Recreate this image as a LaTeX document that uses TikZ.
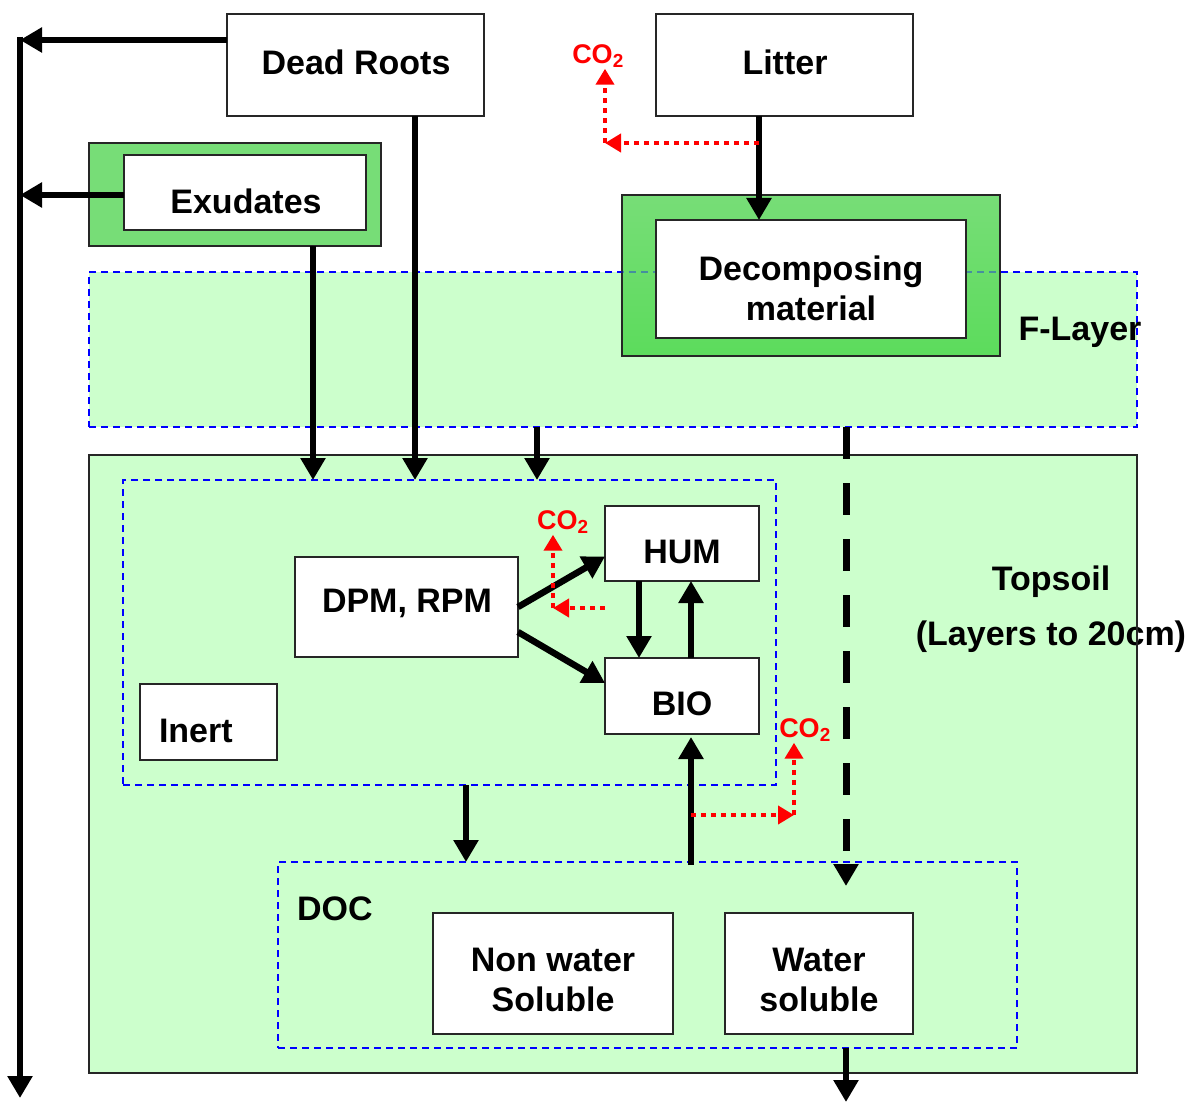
\documentclass[tikz,border=0pt]{standalone}
\usepackage{fontspec}
\setmainfont{Liberation Sans}
\usetikzlibrary{arrows.meta}
\definecolor{soil}{HTML}{CCFFCC}
\definecolor{frameA}{HTML}{77DD77}
\definecolor{frameB}{HTML}{5CDC5C}
\definecolor{bluedash}{HTML}{0000FF}
\definecolor{co2red}{HTML}{FF0000}
\begin{document}
\begin{tikzpicture}[x=1pt,y=-1pt,
  every node/.style={inner sep=0pt, outer sep=0pt},
  box/.style={draw=black!85, line width=1.5pt, fill=white, rectangle},
  greenframe/.style={draw=black!85, line width=1.5pt, fill=frameA, rectangle},
  region/.style={draw=bluedash, line width=1.4pt, dash pattern=on 7pt off 5pt, rectangle},
  txt/.style={font=\fontsize{34}{40}\selectfont\bfseries, align=center, text=black},
  co2/.style={font=\fontsize{27}{30}\selectfont\bfseries, text=co2red, inner sep=1pt},
  arr/.style={line width=6.5pt, draw=black, -{Triangle[length=22pt,width=24pt]}},
  redarr/.style={line width=4.5pt, draw=co2red, dash pattern=on 5pt off 5pt, -{Triangle[length=16pt,width=18pt]}}
]
\useasboundingbox (0,0) rectangle (1192,1102);

% layers
\node[region, fill=soil, minimum width=1048pt, minimum height=155pt] (flayer) at (613,349.5) {};
\node[rectangle, fill=soil, minimum width=1048pt, minimum height=618pt] (topsoil) at (613,764) {};
\node[region, minimum width=653pt, minimum height=305pt] (inner) at (449.5,632.5) {};
\node[region, minimum width=739pt, minimum height=186pt] (doc) at (647.5,955) {};

% top boxes
\node[box, minimum width=257pt, minimum height=102pt] (dead) at (355.5,65) {};
\node[box, minimum width=257pt, minimum height=102pt] (litter) at (784.5,65) {};
\node[greenframe, minimum width=292pt, minimum height=103pt] (exout) at (235,194.5) {};
\node[box, minimum width=242pt, minimum height=75pt] (exud) at (245,192.5) {};
\node[draw=black!85, line width=1.5pt, top color=frameA, bottom color=frameB, rectangle,
      minimum width=378pt, minimum height=161pt] (decout) at (811,275.5) {};
\draw[bluedash, line width=1.4pt, dash pattern=on 7pt off 5pt, opacity=0.35]
  (flayer.north west) -- (flayer.north east);
\node[box, minimum width=310pt, minimum height=118pt] (decomp) at (811,279) {};

% inner boxes
\node[box, minimum width=223pt, minimum height=100pt] (dpm) at (406.5,607) {};
\node[box, minimum width=154pt, minimum height=75pt] (hum) at (682,543.5) {};
\node[box, minimum width=154pt, minimum height=76pt] (bio) at (682,696) {};
\node[box, minimum width=137pt, minimum height=76pt] (inert) at (208.5,722) {};
\node[box, minimum width=240pt, minimum height=121pt] (nws) at (553,973.5) {};
\node[box, minimum width=188pt, minimum height=121pt] (ws) at (819,973.5) {};

% texts
\node[txt] (tdead) at (356,62) {Dead Roots};
\node[txt] (tlitter) at (785,62) {Litter};
\node[txt] (texud) at (246,201) {Exudates};
\node[txt] (tdecomp) at (811,288) {Decomposing\\material};
\node[txt] (tflayer) at (1080,332) {F-Layer};
\node[txt] (tdpm) at (407,603) {DPM, RPM};
\node[txt] (thum) at (682,552) {HUM};
\node[txt] (tbio) at (682,704) {BIO};
\node[txt, anchor=west] (tinert) at (159,731) {Inert};
\node[txt, anchor=west] (tdoc) at (297,909) {DOC};
\node[txt] (tnws) at (553,980) {Non water\\Soluble};
\node[txt] (tws) at (819,980) {Water\\soluble};
\node[txt] (ttop) at (1051,582) {Topsoil};
\node[txt] (tlay) at (1051,637) {(Layers to 20cm)};

% topsoil border over text
\draw[black!85, line width=2pt] (topsoil.north west) rectangle (topsoil.south east);

% CO2 labels
\node[co2] (co2a) at (598,56) {CO\textsubscript{2}};
\node[co2] (co2b) at (563,522) {CO\textsubscript{2}};
\node[co2] (co2c) at (805,730) {CO\textsubscript{2}};

% coordinates
\coordinate (lt) at (20,40);
\coordinate (le) at (20,195);
\coordinate (lb) at (20,1098);
\coordinate (x313) at (313,0);
\coordinate (x415) at (415,0);
\coordinate (x466) at (466,0);
\coordinate (x537) at (537,0);
\coordinate (x639) at (639,0);
\coordinate (x691) at (691,0);
\coordinate (x759) at (759,0);
\coordinate (x846) at (846,0);
\coordinate (dtip) at (846,886);
\coordinate (wbot) at (846,1102);
\coordinate (c1) at (605,143);
\coordinate (c2) at (553,608);
\coordinate (c3) at (794,815);

% left outflow
\draw[line width=6.5pt, -{Triangle[length=22pt,width=24pt]}] ([yshift=3.25pt]lt) -- (lb);
\draw[arr] (dead.west |- lt) -- (lt);
\draw[arr] (exud.west |- le) -- (le);

% down arrows
\draw[arr] (exout.south -| x313) -- (inner.north -| x313);
\draw[arr] (dead.south -| x415) -- (inner.north -| x415);
\draw[arr] (flayer.south -| x537) -- (inner.north -| x537);
\draw[arr] (litter.south -| x759) -- (decomp.north -| x759);
\draw[line width=7pt, dash pattern=on 32pt off 24pt, -{Triangle[length=22pt,width=24pt]}]
  (flayer.south -| x846) -- (dtip);
\draw[arr] (inner.south -| x466) -- (doc.north -| x466);
\draw[arr] (doc.south -| x846) -- (wbot);

% pool arrows
\draw[arr] (dpm.east) -- ([yshift=-13pt]hum.west);
\draw[arr] ([yshift=-25pt]dpm.east) -- ([yshift=13pt]bio.west);
\draw[arr] (hum.south -| x639) -- (bio.north -| x639);
\draw[arr] (bio.north -| x691) -- (hum.south -| x691);
\draw[arr] ([yshift=-3pt]doc.north -| x691) -- ([yshift=-3pt]bio.south -| x691);

% CO2 arrows
\draw[redarr] (x759 |- c1) -- (c1);
\draw[redarr] (c1) -- (c1 |- co2a.south);
\draw[redarr] (hum.west |- c2) -- (c2);
\draw[redarr] (c2) -- (c2 |- co2b.south);
\draw[redarr] (x691 |- c3) -- (c3);
\draw[redarr] (c3) -- (c3 |- co2c.south);
\end{tikzpicture}
\end{document}
